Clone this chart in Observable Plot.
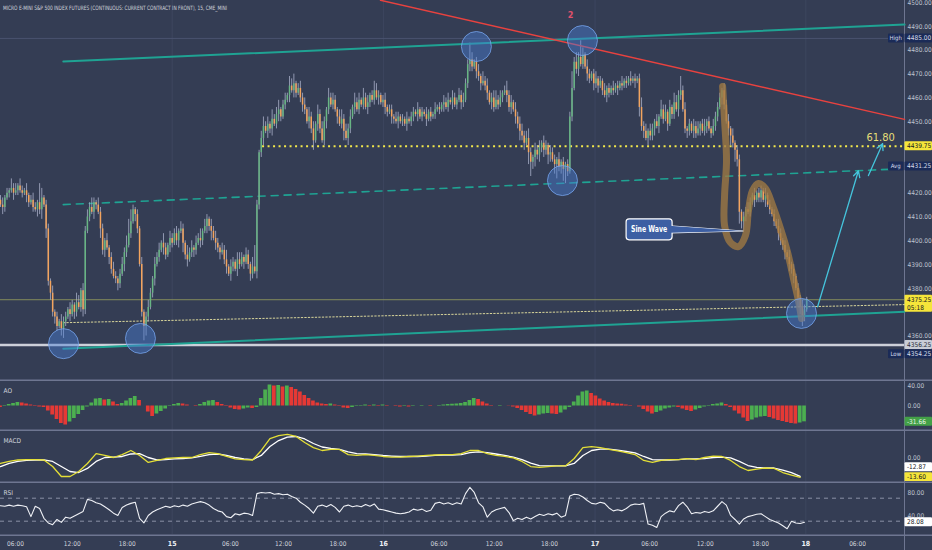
<!DOCTYPE html>
<html><head><meta charset="utf-8">
<script src="https://cdn.jsdelivr.net/npm/d3@7"></script>
<script src="https://cdn.jsdelivr.net/npm/@observablehq/plot@0.6"></script>
<style>
html,body{margin:0;padding:0;background:#343d54;}
#chart{position:relative;width:932px;height:550px;overflow:hidden;background:#343d54;}
#chart svg{display:block;}
</style></head><body><div id="chart"></div>
<script>
// ---------------- data ----------------
const title = "MICRO E-MINI S&P 500 INDEX FUTURES (CONTINUOUS: CURRENT CONTRACT IN FRONT), 15, CME_MINI";
const firstOpen = 4417;
const closes = [4415,4414,4418,4420,4421,4422,4420,4421,4423,4421,
4420,4421,4419,4416,4417,4414,4413,4416,4413,4418,
4415,4405,4383,4378,4370,4368,4364,4366,4363,4366,
4368,4371,4369,4373,4370,4374,4372,4379,4371,4404,
4410,4414,4412,4416,4415,4412,4405,4396,4400,4397,
4393,4388,4385,4384,4382,4386,4390,4395,4398,4403,
4408,4413,4411,4405,4390,4370,4364,4368,4372,4378,
4384,4390,4393,4396,4399,4397,4394,4398,4401,4399,
4403,4400,4404,4405,4399,4394,4392,4395,4397,4396,
4399,4401,4400,4404,4406,4409,4406,4404,4401,4399,
4397,4395,4396,4392,4389,4386,4389,4391,4388,4392,
4390,4393,4391,4394,4390,4386,4389,4387,4415,4437,
4443,4448,4446,4449,4447,4451,4449,4453,4455,4452,
4457,4459,4461,4465,4463,4466,4462,4464,4460,4457,
4455,4450,4452,4447,4442,4449,4453,4447,4442,4450,
4455,4460,4457,4459,4455,4452,4449,4451,4446,4443,
4447,4452,4456,4458,4455,4459,4457,4460,4456,4458,
4461,4459,4463,4460,4461,4458,4459,4456,4454,4455,
4452,4451,4450,4452,4450,4451,4449,4451,4450,4452,
4454,4453,4455,4452,4454,4453,4451,4454,4452,4453,
4455,4456,4455,4457,4458,4456,4459,4458,4460,4457,
4459,4461,4458,4459,4466,4474,4476,4473,4475,4471,
4469,4466,4467,4465,4462,4458,4460,4456,4459,4457,
4460,4462,4463,4461,4456,4458,4455,4452,4449,4446,
4444,4441,4443,4437,4433,4435,4438,4436,4439,4441,
4438,4440,4436,4437,4434,4432,4434,4431,4433,4430,
4432,4429,4452,4464,4475,4472,4477,4474,4478,4473,
4470,4468,4470,4466,4468,4465,4467,4463,4461,4464,
4462,4464,4463,4465,4464,4466,4465,4467,4466,4468,
4467,4468,4467,4468,4456,4448,4446,4443,4446,4444,
4447,4450,4448,4452,4455,4451,4454,4449,4456,4453,
4458,4455,4461,4463,4455,4447,4446,4449,4446,4448,
4445,4447,4449,4446,4448,4450,4447,4445,4448,4452,
4456,4460,4463,4457,4450,4447,4444,4441,4438,4434,
4412,4408,4410,4413,4412,4416,4419,4417,4420,4418,
4421,4417,4419,4415,4413,4411,4408,4406,4403,4400,
4398,4395,4393,4390,4388,4385,4380,4376,4372,4368,
4371,4375.25];
// wick extensions above / below the body, in points, one digit per bar
const wickUp = ("2312142313 2131232184 1221312132 2132143132 3242132213 1232123246 5212131232 1323142132 2313214231 3241321323 " +
  "2132413213 3213214921 3423142341 2314341232 3142314232 1423213423 2314231423 1243212312 2132121312 2131213121 " +
  "3121323132 1323227312 3142312342 3124231323 3234213231 3213221312 1227242731 3212312131 2131213121 3121242313 " +
  "2131423131 4326231213 2312312132 2213231312 2121321312 2131212132 1213121213 21").replace(/\s/g, "");
const wickDn = ("1321213121 2132121324 1423232134 2131321232 1213214231 3212321321 2132126421 2312132132 1231423123 2132132413 " +
  "2312313213 2131232132 2313231232 1213132123 2132413212 3212131241 3213121213 2121312321 3213121312 2131213121 " +
  "2121312131 2132123213 2312313212 1213231324 2315634232 3243146235 6212123121 3213231213 2121312121 2131423132 " +
  "2313121312 2132123213 2131231212 2132134253 5342121312 2131212132 2313231434 21").replace(/\s/g, "");

// Awesome Oscillator, one value per two bars
const aoValues = [-3,1,3,5,7,6,4,2,-1,-2,
-3,-10,-18,-27,-35,-38,-32,-25,-17,-9,
-2,6,14,15,12,13,8,3,5,10,
15,19,11,0,-12,-21,-16,-11,-6,-1,
3,5,4,2,0,-1,3,7,10,11,
7,3,-1,-4,-7,-8,-6,-4,-5,-3,
15,32,42,40,41,38,40,37,33,28,
21,15,10,6,4,3,4,2,-1,-4,
-5,-3,-1,1,2,1,2,1,2,1,
0,-1,-2,-1,-2,-1,0,1,0,-1,
0,1,2,3,3.5,4,5,7,11,15,
13,8,4,1,0,1,0,-0.5,-2,-5,
-9,-13,-17,-20,-18,-16,-15,-16,-17,-14,
-8,-3,8,20,28,30,25,20,14,10,
7,5,4,3.5,2,1,0,-2,-7,-12,
-16,-13,-10,-6,-4,-2,-3,-6,-9,-11,
-8,-5,-2,1,3,4,6,3,-3,-10,
-16,-24,-31,-28,-24,-22,-21,-23,-26,-29,
-31,-33,-35,-36,-34,-31.66];
// MACD (yellow) and signal (white), one value per four bars
const macdLine = [-4.1,-2.7,-1.7,-1.4,-1.4,-1.7,-6.2,-13,-13,-9.6,
-4.1,2.7,1.4,0,2,4.8,1.4,-3.4,-2,-0.7,
-0.3,0,0,2,3.4,2.7,0.7,-1,-1.4,-1.7,
4.8,13,15,15.8,14.4,10.3,6.8,4.8,5.5,5.5,
2,1.4,2,1.4,0.7,0.3,0.3,0.7,1,1.4,
1.7,2,2,2.7,4.8,4.8,2.7,1.4,0.7,-0.3,
-2.7,-6.2,-6.8,-6.2,-5.8,-5.8,-0.7,6.8,7.5,6.8,
5.5,4.5,3.4,2,-2,-3.4,-2,-1.4,-1.4,-0.7,
-1.4,0,1,0.7,-2,-6.2,-8.9,-7.9,-7.2,-7.5,
-10.3,-12,-13.60];
const signalLine = [-6.2,-4.1,-2.7,-2,-1.7,-1.7,-2.7,-6.2,-9.6,-10.3,
-7.5,-2.7,0,0.3,0.7,2.4,2.7,0,-1.7,-1.4,
-1,-0.7,-0.3,0.7,2,2.4,1.4,0,-1,-1.4,
1.4,7.5,11.6,14,14.4,12.7,9.6,7.2,6.2,5.5,
3.8,2.7,2.4,2,1.4,1,0.7,0.7,0.7,1,
1.4,1.7,1.7,2,3.4,3.8,3.4,2.4,1.4,0.3,
-1.4,-3.8,-5.5,-5.8,-5.8,-5.8,-4.1,1.4,4.8,5.8,
5.8,5.1,4.1,3.1,0.7,-1.4,-1.7,-1.7,-1.4,-1,
-1,-0.7,0,0.3,-0.3,-2.7,-5.5,-6.8,-7.2,-7.2,
-8.6,-10.3,-12.87];
// RSI, one value per two bars
const rsiValues = [57,56,58,56,58,57,55,38,56,52,
35,27,24,33,28,37,35,39,43,47,
68,66,62,60,55,50,44,40,54,58,
61,63,35,27,40,46,50,53,56,54,
57,55,58,56,60,62,64,62,58,52,
48,46,38,36,43,41,44,43,40,78,
80,79,80,77,78,76,77,73,70,63,
58,52,44,56,58,55,59,54,46,56,
58,55,57,55,59,56,60,51,50,48,
46,44,43,44,46,51,49,51,47,49,
61,63,60,62,59,62,60,78,89,80,
62,55,37,46,50,52,54,45,31,35,
33,37,34,38,42,40,43,41,44,37,
40,74,77,76,72,66,61,60,63,61,
53,48,50,48,52,58,60,59,61,25,
23,19,38,44,48,46,57,63,55,43,
45,44,47,45,48,56,64,58,40,33,
25,34,38,40,42,43,38,33,30,27,
22,17,30,27,26,28.08];

// time axis (bar positions) and labels
const tickPos = [6.9,33,58.3,79,105.8,130.2,155.3,176.3,201.8,227.2,252.6,273.6,298.7,324.3,349.7,370.6,394.4];
const tickLabels = ["06:00","12:00","18:00","15","06:00","12:00","18:00","16","06:00","12:00","18:00","17","06:00","12:00","18:00","18","06:00"];
// price-scale labels that the value tags leave visible
const priceTicks = [4360,4380,4390,4400,4410,4420,4450,4460,4470,4480,4490,4500];
const aoTicks = [0, 40];
const macdTicks = [0];
const rsiTicks = [40, 80];
const rsiBands = [70, 30];

// levels
const highPrice = 4485, lowPrice = 4354.25, avgPrice = 4431.25, fibLevel = 4439.75, lastPrice = 4375.25, lowLine = 4356.25;
const countdown = "05:18";
const fibStart = 120.6;

// drawings (bar, price)
const channelTop = [[28.9, 4475.3], [416, 4490.8]];
const channelMid = [[28.9, 4415.2], [416, 4430.3]];
const channelLow = [[28.9, 4354.7], [416, 4370.2]];
const redLine = [[174.9, 4501], [416, 4451]];
const dottedLine = [[28.9, 4365.6], [416, 4373.2]];
const circles = [[29, 4356.8], [64.4, 4359], [219, 4481.6], [267.8, 4484.1], [258.6, 4425.3], [368.6, 4369.5]];
const sineWave = [[332.3,4464.8],[333.2,4450.5],[334.1,4433.7],[333.2,4419.0],[333.2,4406.4],[335.9,4399.3],[339.6,4397.6],[342.8,4402.2],[344.2,4412.7],[346.1,4421.1],[348.8,4424.1],[352.0,4422.0],[355.3,4414.8],[358.9,4405.2],[362.2,4395.1],[364.9,4384.2],[367.2,4374.9],[368.6,4367.4]];
const arrows = [{x1: 376, y1: 4372.3, x2: 394.8, y2: 4429.4}, {x1: 399.4, y1: 4427.4, x2: 405.9, y2: 4440.8}];
const notes = [{x: 262.3, y: 4494.6, text: "2"}];
const fibNote = {x: 405, y: 4443.4, text: "61.80"};
const calloutNote = {x: 298.7, y: 4404.6, tipX: 341.9, tipY: 4403.9, text: "Sine Wave"};

// ---------------- style ----------------
const FONT = "'Liberation Sans Narrow','DejaVu Sans Condensed',Roboto,sans-serif";
const W = 932, MR = 28, XMAX = 416, XFULL = XMAX * W / (W - MR);
const AXIS_TEXT = "#bfc3cf", SEP = "#6e7691", GRID = "#3d465f", NAVY = "#1b2b57";
const UP = "#67b583", DOWN = "#f3a45e", WICK = "#a9b0c9";
const dayTicks = tickPos.filter((d, i) => !tickLabels[i].includes(":"));

const candles = closes.map((c, i) => {
  const o = i === 0 ? firstOpen : closes[i - 1];
  return {i, open: o, close: c,
    high: Math.max(o, c) + (+wickUp[i] || 0),
    low: Math.min(o, c) - (+wickDn[i] || 0)};
});
const aoData = aoValues.map((v, k) => ({s: 2 * k, v, up: k > 0 && v > aoValues[k - 1]}));
const macdData = macdLine.map((v, j) => ({s: 4 * j, v}));
const signalData = signalLine.map((v, j) => ({s: 4 * j, v}));
const rsiData = rsiValues.map((v, k) => ({s: 2 * k, v}));

function panel(height, yDomain, marks) {
  return Plot.plot({
    width: W, height, marginLeft: 0, marginRight: MR, marginTop: 0, marginBottom: 0,
    x: {domain: [0, XMAX], axis: null},
    y: {domain: yDomain, axis: null},
    style: {background: "transparent", color: AXIS_TEXT, fontFamily: FONT, fontSize: "6.5px", overflow: "hidden"},
    marks
  });
}
const common = (top) => [
  Plot.ruleX(dayTicks, {stroke: GRID, strokeWidth: 1}),
  Plot.ruleX([XMAX], {stroke: SEP, strokeWidth: 1}),
  ...(top === null ? [] : [Plot.ruleY([top], {x1: () => 0, x2: () => XFULL, stroke: SEP, strokeWidth: 1.5, dy: 0.75})])
];
const tickText = (vals, fmt) => Plot.text(vals, {x: () => XMAX, y: d => d, text: fmt, dx: 3, textAnchor: "start", fill: AXIS_TEXT, fontSize: 6.5});
const label = (t) => Plot.text([t], {frameAnchor: "top-left", dx: 3, dy: 9, textAnchor: "start", fill: "#cfd3dc", fontSize: 6.5});

function tag(fig, value, lines, bg, fg, opts = {}) {
  const y = fig.scale("y").apply(value) + (opts.dy || 0);
  const g = d3.select(fig).append("g").attr("font-family", FONT).attr("font-size", 6.5).attr("text-anchor", "start");
  const top = y - 4.5, h = 9 + (lines.length - 1) * 8, x0 = W - MR;
  if (opts.label) {
    g.append("rect").attr("x", x0 - 16).attr("y", top).attr("width", 15.5).attr("height", 9).attr("fill", bg).attr("rx", 1);
    g.append("text").attr("x", x0 - 8.25).attr("y", top + 4.5).attr("dy", "0.35em").attr("text-anchor", "middle").attr("font-size", 6).attr("fill", fg).text(opts.label);
  }
  g.append("rect").attr("x", x0 + 0.5).attr("y", top).attr("width", MR - 0.5).attr("height", h).attr("fill", bg).attr("rx", 1);
  lines.forEach((t, k) => g.append("text").attr("x", x0 + 3).attr("y", top + 4.5 + 8 * k).attr("dy", "0.35em").attr("text-anchor", "start").attr("fill", fg).text(t));
}

function callout(fig, c) {
  const X = fig.scale("x"), Y = fig.scale("y");
  const cx = X.apply(c.x), cy = Y.apply(c.y), tx = X.apply(c.tipX), ty = Y.apply(c.tipY);
  const hw = 23, hh = 10.5, fill = "#3d5fa3";
  const g = d3.select(fig).append("g");
  const d = `M${cx + hw - 3},${cy - 3.5}L${tx},${ty}L${cx + hw - 3},${cy + 3.5}Z`;
  g.append("path").attr("d", d).attr("fill", fill).attr("stroke", "#fff").attr("stroke-width", 1.2).attr("stroke-linejoin", "round");
  g.append("rect").attr("x", cx - hw).attr("y", cy - hh).attr("width", 2 * hw).attr("height", 2 * hh).attr("rx", 3)
    .attr("fill", fill).attr("stroke", "#fff").attr("stroke-width", 1.2);
  g.append("path").attr("d", d).attr("fill", fill);
  g.append("text").attr("x", cx).attr("y", cy).attr("dy", "0.35em").attr("text-anchor", "middle")
    .attr("fill", "#fff").attr("font-weight", "bold").attr("font-size", 8).attr("font-family", FONT)
    .attr("textLength", 36).attr("lengthAdjust", "spacingAndGlyphs").text(c.text);
}

// ---------------- price panel ----------------
const price = panel(379, [4341.75, 4500.92], [
  ...common(null),
  Plot.ruleY([highPrice], {stroke: "#4a5370", strokeWidth: 1}),
  Plot.ruleY([lastPrice], {stroke: "#858c5c", strokeWidth: 1}),
  Plot.ruleY([lowLine], {stroke: "#cdd0d9", strokeWidth: 2.5}),
  Plot.line(dottedLine, {stroke: "#d8d59a", strokeWidth: 1, strokeDasharray: "1.5,2"}),
  Plot.ruleY([fibLevel], {x1: () => fibStart, x2: () => XMAX, stroke: "#f2e84b", strokeWidth: 2, strokeDasharray: "2,3.5"}),
  Plot.line(channelMid, {stroke: "#1fa393", strokeWidth: 1.6, strokeDasharray: "7,6"}),
  Plot.ruleX(candles, {x: "i", y1: "low", y2: "high", stroke: WICK, strokeWidth: 0.8}),
  Plot.ruleX(candles, {x: "i", y1: "open", y2: d => d.open === d.close ? d.close + 0.3 : d.close,
    stroke: d => d.close >= d.open ? UP : DOWN, strokeWidth: 1.5}),
  Plot.line(channelTop, {stroke: "#1fa393", strokeWidth: 2}),
  Plot.line(channelLow, {stroke: "#1fa393", strokeWidth: 2}),
  Plot.line(redLine, {stroke: "#e8423f", strokeWidth: 1.5}),
  Plot.line(sineWave, {curve: "catmull-rom", stroke: "#a07a42", strokeOpacity: 0.78, strokeWidth: 7, strokeLinecap: "round", strokeLinejoin: "round"}),
  Plot.dot(circles, {x: d => d[0], y: d => d[1], r: 15, fill: "#4a7fd4", fillOpacity: 0.45, stroke: "#79a8f2", strokeOpacity: 0.75, strokeWidth: 1}),
  Plot.arrow(arrows, {x1: "x1", y1: "y1", x2: "x2", y2: "y2", stroke: "#45c4dc", strokeWidth: 1.3, headLength: 8, headAngle: 55}),
  Plot.text(notes, {x: "x", y: "y", text: "text", fill: "#e0506b", fontSize: 9, fontWeight: "bold"}),
  Plot.text([fibNote], {x: "x", y: "y", text: "text", fill: "#e6df78", fontSize: 11}),
  tickText(priceTicks, d => d.toFixed(2))
]);

// ---------------- AO panel ----------------
const ao = panel(50, [-47, 53], [
  ...common(53),
  Plot.rectY(aoData, {x1: d => d.s - 0.85, x2: d => d.s + 0.85, y: "v", fill: d => d.up ? "#4caf50" : "#e53935"}),
  tickText(aoTicks, d => d.toFixed(2)),
  label("AO")
]);

// ---------------- MACD panel ----------------
const macd = panel(52, [-16.44, 19.18], [
  ...common(19.18),
  Plot.line(signalData, {x: "s", y: "v", stroke: "#ffffff", strokeWidth: 1.3}),
  Plot.line(macdData, {x: "s", y: "v", stroke: "#e4df36", strokeWidth: 1.3}),
  tickText(macdTicks, d => d.toFixed(2)),
  label("MACD")
]);

// ---------------- RSI panel ----------------
const rsi = panel(53, [6.87, 99.04], [
  ...common(99.04),
  Plot.ruleY(rsiBands, {stroke: "#8a90a6", strokeWidth: 1, strokeDasharray: "4,4"}),
  Plot.line(rsiData, {x: "s", y: "v", stroke: "#eef0f5", strokeWidth: 1.1}),
  tickText(rsiTicks, d => d.toFixed(2)),
  label("RSI")
]);

// ---------------- time axis ----------------
const ticks = tickPos.map((p, i) => ({p, t: tickLabels[i], day: !tickLabels[i].includes(":")}));
const axis = panel(16, [0, 1], [
  Plot.ruleX([XMAX], {stroke: SEP, strokeWidth: 1}),
  Plot.ruleY([1], {x1: () => 0, x2: () => XFULL, stroke: SEP, strokeWidth: 1.5, dy: 0.75}),
  Plot.text(ticks.filter(d => !d.day), {x: "p", text: "t", frameAnchor: "middle", dy: 1, fill: "#cfd3dc", fontSize: 6.5}),
  Plot.text(ticks.filter(d => d.day), {x: "p", text: "t", frameAnchor: "middle", dy: 1, fill: "#eef0f5", fontSize: 7, fontWeight: "bold"})
]);

const root = document.getElementById("chart");
[price, ao, macd, rsi, axis].forEach(f => root.appendChild(f));

// title
d3.select(price).append("text").attr("x", 3).attr("y", 8).attr("dy", "0.35em").attr("text-anchor", "start")
  .attr("font-family", FONT).attr("font-size", 6).attr("fill", "#d1d4dc")
  .attr("textLength", 224).attr("lengthAdjust", "spacingAndGlyphs").text(title);

callout(price, calloutNote);

// value tags on the right scale
tag(price, highPrice, [highPrice.toFixed(2)], NAVY, "#d6dbea", {label: "High"});
tag(price, fibLevel, [fibLevel.toFixed(2)], "#f5e53a", "#131722");
tag(price, avgPrice, [avgPrice.toFixed(2)], NAVY, "#d6dbea", {label: "Avg"});
tag(price, lastPrice, [lastPrice.toFixed(2), countdown], "#f5e53a", "#131722");
tag(price, lowLine, [lowLine.toFixed(2)], "#c9cdd6", "#2a2e39");
tag(price, lowPrice, [lowPrice.toFixed(2)], NAVY, "#d6dbea", {label: "Low", dy: 4.5});
tag(ao, aoValues[aoValues.length - 1], [aoValues[aoValues.length - 1].toFixed(2)], "#43a047", "#eaf6ea");
tag(macd, signalLine[signalLine.length - 1], [signalLine[signalLine.length - 1].toFixed(2)], "#ffffff", "#131722", {dy: -9});
tag(macd, macdLine[macdLine.length - 1], [macdLine[macdLine.length - 1].toFixed(2)], "#f5e53a", "#131722");
tag(rsi, rsiValues[rsiValues.length - 1], [rsiValues[rsiValues.length - 1].toFixed(2)], "#ffffff", "#131722");
</script></body></html>
